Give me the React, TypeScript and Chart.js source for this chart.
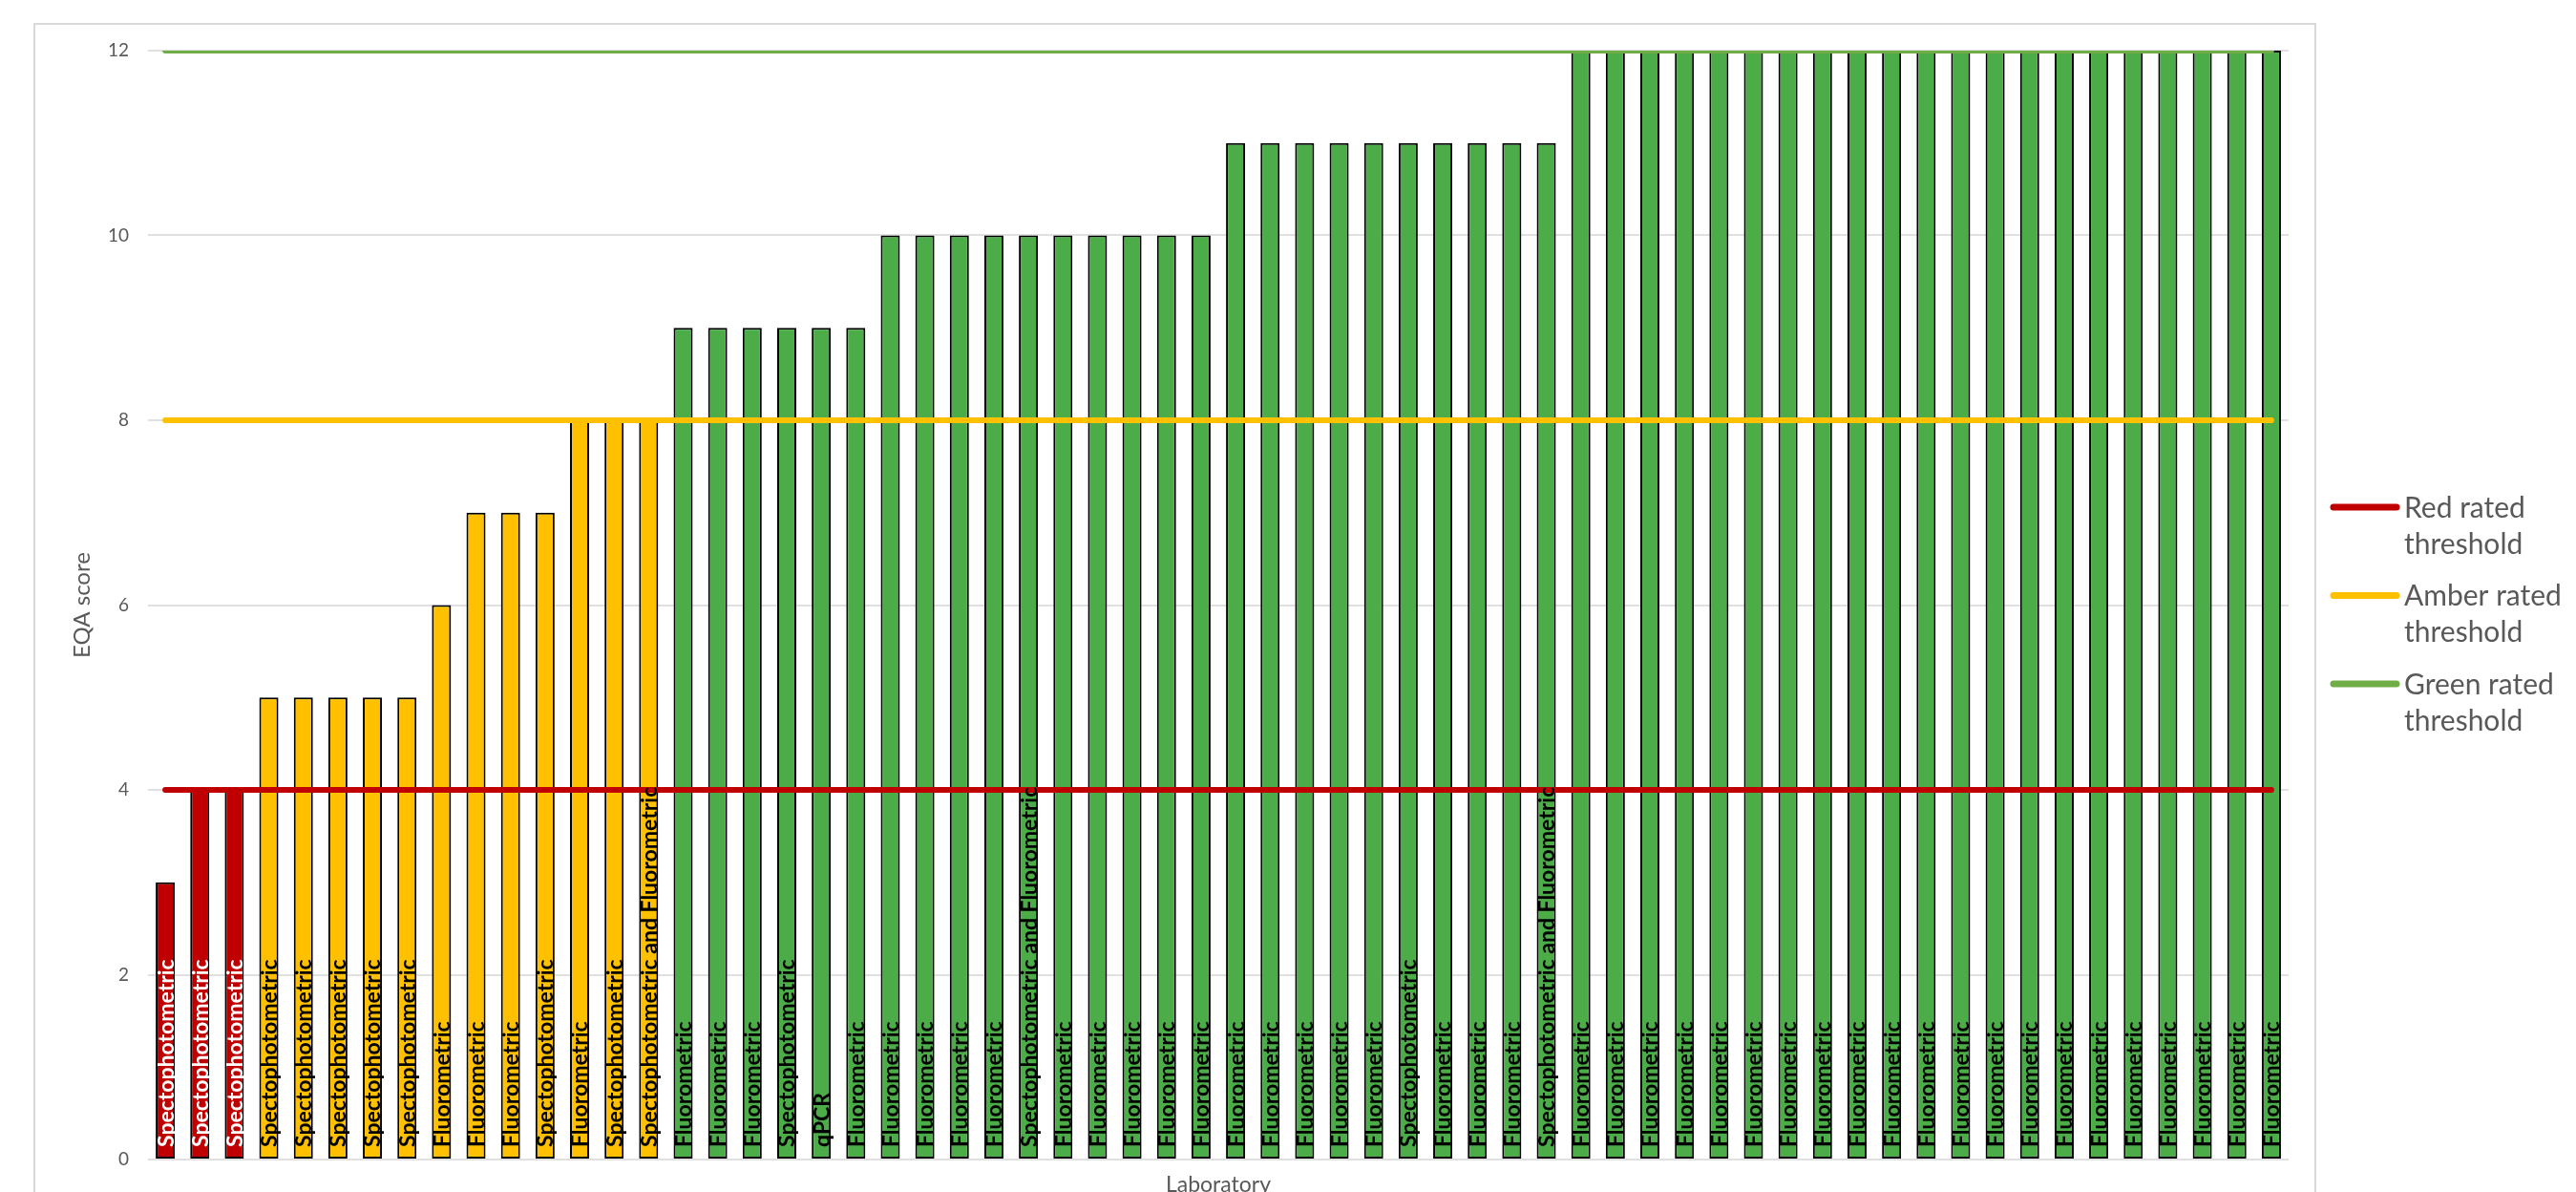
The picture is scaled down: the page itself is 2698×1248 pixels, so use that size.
import React, { useEffect, useRef } from "react";
import { Chart, registerables } from "chart.js";

Chart.register(...registerables);

// ---------- Data ----------
const methods: string[] = [
  "Spectophotometric", "Spectophotometric", "Spectophotometric",
  "Spectophotometric", "Spectophotometric", "Spectophotometric", "Spectophotometric", "Spectophotometric",
  "Fluorometric",
  "Fluorometric", "Fluorometric", "Spectophotometric",
  "Fluorometric", "Spectophotometric", "Spectophotometric and Fluorometric",
  "Fluorometric", "Fluorometric", "Fluorometric", "Spectophotometric", "qPCR", "Fluorometric",
  "Fluorometric", "Fluorometric", "Fluorometric", "Fluorometric", "Spectophotometric and Fluorometric",
  "Fluorometric", "Fluorometric", "Fluorometric", "Fluorometric", "Fluorometric",
  "Fluorometric", "Fluorometric", "Fluorometric", "Fluorometric", "Fluorometric",
  "Spectophotometric", "Fluorometric", "Fluorometric", "Fluorometric", "Spectophotometric and Fluorometric",
  "Fluorometric", "Fluorometric", "Fluorometric", "Fluorometric", "Fluorometric", "Fluorometric", "Fluorometric",
  "Fluorometric", "Fluorometric", "Fluorometric", "Fluorometric", "Fluorometric", "Fluorometric", "Fluorometric",
  "Fluorometric", "Fluorometric", "Fluorometric", "Fluorometric", "Fluorometric", "Fluorometric", "Fluorometric",
];

const scores: number[] = [
  3, 4, 4,
  5, 5, 5, 5, 5,
  6,
  7, 7, 7,
  8, 8, 8,
  9, 9, 9, 9, 9, 9,
  10, 10, 10, 10, 10, 10, 10, 10, 10, 10,
  11, 11, 11, 11, 11, 11, 11, 11, 11, 11,
  12, 12, 12, 12, 12, 12, 12, 12, 12, 12, 12, 12, 12, 12, 12, 12, 12, 12, 12, 12, 12,
];

const thresholdLabels: string[][] = [
  ["Red rated", "threshold"],
  ["Amber rated", "threshold"],
  ["Green rated", "threshold"],
];
const thresholdValues: number[] = [4, 8, 12];
const thresholdColors: string[] = ["#C00000", "#FFC000", "#70AD47"];
const barFillColors: string[] = ["#C00000", "#FFC000", "#4CAD48"];
const labelTextColors: string[] = ["#FFFFFF", "#000000", "#000000"];

const yMin = 0;
const yMax = 12;
const yStep = 2;
const xTitle = "Laboratory";
const yTitle = "EQA score";

// ---------- Helpers ----------
const ratingIndex = (v: number): number => {
  if (v <= thresholdValues[0]) return 0;
  if (v <= thresholdValues[1]) return 1;
  return 2;
};

const W = 2698;
const H = 1300;
const GREY = "#595959";
const FONT = "Lato, 'Open Sans', sans-serif";

const frameAndLegendPlugin = {
  id: "frameAndLegend",
  beforeDraw(chart: any) {
    const { ctx } = chart;
    ctx.save();
    ctx.fillStyle = "#FFFFFF";
    ctx.fillRect(0, 0, chart.width, chart.height);
    ctx.strokeStyle = "#D9D9D9";
    ctx.lineWidth = 2;
    ctx.strokeRect(36, 25, 2389, 1400);
    ctx.restore();
  },
  afterDraw(chart: any) {
    const { ctx, chartArea } = chart;
    // bar labels
    const meta = chart.getDatasetMeta(0);
    ctx.save();
    ctx.font = `bold 23px ${FONT}`;
    ctx.textAlign = "left";
    ctx.textBaseline = "middle";
    meta.data.forEach((bar: any, i: number) => {
      ctx.save();
      ctx.translate(bar.x, chartArea.bottom - 13);
      ctx.rotate(-Math.PI / 2);
      ctx.fillStyle = labelTextColors[ratingIndex(scores[i])];
      ctx.fillText(methods[i], 0, 1);
      ctx.restore();
    });
    ctx.restore();

    // legend
    const lx0 = 2444;
    const lx1 = 2510;
    const tx = 2518;
    const y0 = 531;
    const gap = 92.5;
    ctx.save();
    ctx.font = `30px ${FONT}`;
    ctx.textAlign = "left";
    ctx.textBaseline = "alphabetic";
    thresholdLabels.forEach((lines, i) => {
      const y = y0 + i * gap;
      ctx.strokeStyle = thresholdColors[i];
      ctx.lineWidth = 7;
      ctx.lineCap = "round";
      ctx.beginPath();
      ctx.moveTo(lx0, y);
      ctx.lineTo(lx1, y);
      ctx.stroke();
      ctx.fillStyle = GREY;
      lines.forEach((t, j) => ctx.fillText(t, tx, y + 10.5 + j * 38));
    });
    ctx.restore();
  },
};

export default function App() {
  const canvasRef = useRef<HTMLCanvasElement | null>(null);

  useEffect(() => {
    let chart: Chart | null = null;
    let cancelled = false;
    const make = () => {
      if (cancelled || !canvasRef.current) return;
      const datasets: any[] = [
        {
          type: "bar",
          label: "EQA score",
          data: scores,
          backgroundColor: scores.map((v) => barFillColors[ratingIndex(v)]),
          borderColor: "#000000",
          borderWidth: 2,
          borderSkipped: false,
          barPercentage: 0.553,
          categoryPercentage: 1,
          order: 1,
        },
        ...thresholdValues.map((t, i) => ({
          type: "line",
          label: thresholdLabels[i].join(" "),
          data: scores.map(() => t),
          borderColor: thresholdColors[i],
          backgroundColor: thresholdColors[i],
          borderWidth: 6,
          borderCapStyle: "round",
          pointRadius: 0,
          pointHoverRadius: 0,
          fill: false,
          order: 0,
        })),
      ];
      chart = new Chart(canvasRef.current, {
        type: "bar",
        data: { labels: methods, datasets },
        options: {
          animation: false,
          responsive: false,
          devicePixelRatio: 1,
          layout: { padding: { left: 36, top: 53, right: 301, bottom: 0 } },
          plugins: {
            legend: { display: false },
            tooltip: { enabled: false },
            title: { display: false },
          },
          scales: {
            x: {
              type: "category",
              offset: true,
              grid: { display: false, drawTicks: false },
              border: { display: false },
              ticks: { display: false },
              title: {
                display: true,
                text: xTitle,
                color: GREY,
                font: { family: FONT, size: 23 },
                padding: { top: 0, bottom: 45.6 },
              },
              afterFit: (scale: any) => {
                scale.height = 86;
              },
            },
            y: {
              type: "linear",
              min: yMin,
              max: yMax,
              ticks: {
                stepSize: yStep,
                color: GREY,
                padding: 20,
                font: { family: FONT, size: 19 },
              },
              grid: { color: "#E0E0E0", lineWidth: 2, drawTicks: false },
              border: { display: false },
              title: {
                display: true,
                text: yTitle,
                color: GREY,
                font: { family: FONT, size: 24 },
                padding: { top: 36, bottom: 0 },
              },
              afterFit: (scale: any) => {
                scale.width = 155 - 36;
              },
            },
          },
        },
        plugins: [frameAndLegendPlugin],
      } as any);
    };
    const fontsReady = (document as any).fonts
      ? Promise.all([
          (document as any).fonts.load(`bold 23px Lato`),
          (document as any).fonts.load(`30px Lato`),
        ]).catch(() => null)
      : Promise.resolve(null);
    fontsReady.then(make);
    return () => {
      cancelled = true;
      if (chart) chart.destroy();
    };
  }, []);

  return (
    <div
      style={{
        position: "absolute",
        left: 0,
        top: 0,
        width: W,
        height: 1248,
        overflow: "hidden",
        background: "#FFFFFF",
      }}
    >
      <canvas ref={canvasRef} width={W} height={H} style={{ display: "block", width: W, height: H }} />
    </div>
  );
}
